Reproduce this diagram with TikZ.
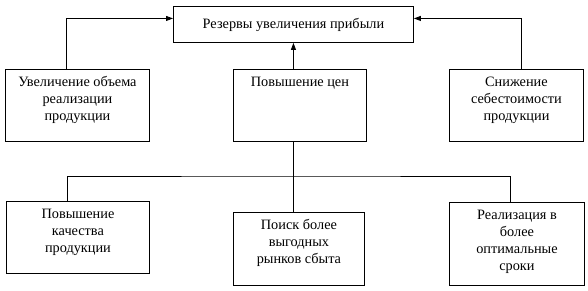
\documentclass[tikz,border=0pt]{standalone}
\usepackage{fontspec}
\setmainfont{Liberation Serif}
\usetikzlibrary{arrows.meta, positioning, calc}

\tikzset{
  blok/.style={draw, line width=0.9pt, inner sep=3pt, anchor=north west,
               font=\fontsize{14.3}{17}\selectfont},
  svyaz/.style={line width=0.9pt},
  strelka/.style={svyaz, -{Triangle[length=7pt,width=5pt]}}
}
% text of a box, pinned to its top edge
\newcommand{\bloktext}[3]{\parbox[t][#2][t]{#1}{\centering\vspace*{2pt}\strut #3}}

\begin{document}
\begin{tikzpicture}[x=1pt, y=-1pt]
  \useasboundingbox (0,0) rectangle (588,291);

  \node[blok, minimum width=240pt, minimum height=36pt] (rezervy) at (173,6) {Резервы увеличения прибыли};

  \node[blok] (obem) at (5,69) {\bloktext{138pt}{66pt}{Увеличение объема\\ реализации\\ продукции}};
  \node[blok] (ceny) at (233,69) {\bloktext{127pt}{66pt}{Повышение цен}};
  \node[blok] (sebest) at (449,69) {\bloktext{128pt}{66pt}{Снижение\\ себестоимости\\ продукции}};

  \node[blok] (kachestvo) at (6,201) {\bloktext{137pt}{66pt}{Повышение\\ качества\\ продукции}};
  \node[blok] (rynki) at (233,212) {\bloktext{125pt}{67pt}{Поиск более\\ выгодных\\ рынков сбыта}};
  \node[blok] (sroki) at (449,202) {\bloktext{129pt}{77pt}{Реализация в\\ более\\ оптимальные\\ сроки}};

  \draw[strelka] ([xshift=-11pt]obem.north) |- ([yshift=6pt]rezervy.west);
  \draw[strelka] ([xshift=5pt]sebest.north) |- ([yshift=6pt]rezervy.east);
  \draw[strelka] (ceny.north -| rezervy.south) -- (rezervy.south);

  \coordinate (uzel) at (293,176);
  \draw[svyaz] (ceny.south -| rezervy.south) -- (rynki.north -| rezervy.south);
  \draw[svyaz] ([xshift=-11pt]kachestvo.north) |- (uzel) -| ([xshift=-7pt]sroki.north);
\end{tikzpicture}
\end{document}
